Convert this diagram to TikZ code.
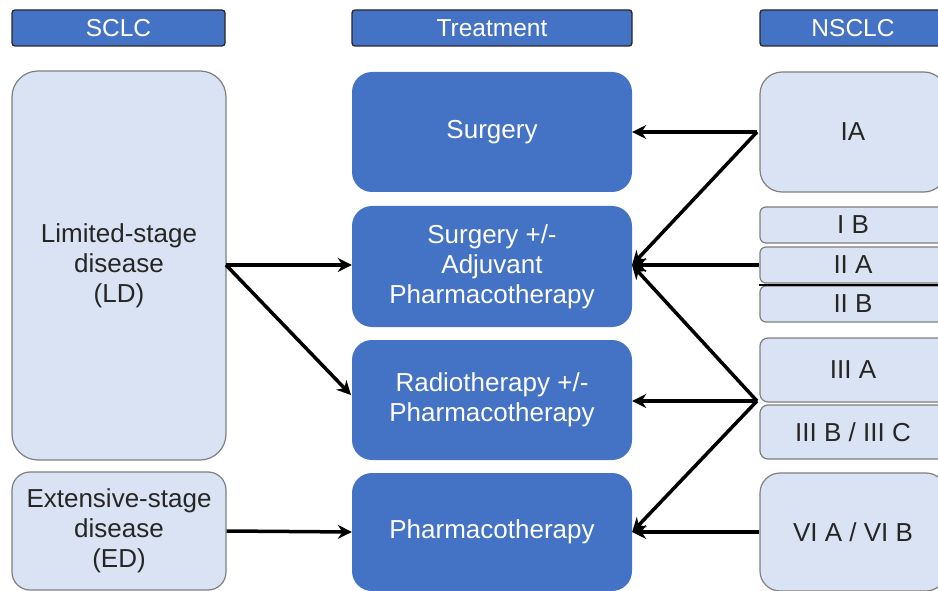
\documentclass[tikz,border=0pt]{standalone}
\usepackage{fontspec}
\setmainfont{Liberation Sans}
\usetikzlibrary{arrows.meta,calc}
\definecolor{cblue}{HTML}{4472C4}
\definecolor{clight}{HTML}{DAE3F3}
\definecolor{cedge}{HTML}{7F7F7F}
\definecolor{ctext}{HTML}{262626}
\tikzset{
  hdr/.style={fill=cblue,draw=black!85,line width=1.3pt,rounded corners=3pt,text=white,
    font=\fontsize{24.5}{28}\selectfont,inner sep=0pt},
  tbox/.style={fill=cblue,draw=none,rounded corners=20pt,text=white,align=center,
    font=\fontsize{26}{30}\selectfont,inner sep=0pt},
  lbox/.style={fill=clight,draw=cedge,line width=1.2pt,text=ctext,align=center,
    font=\fontsize{26}{30}\selectfont,inner sep=0pt},
  arr/.style={line width=3.5pt,-{Stealth[length=14pt,width=14pt]}},
}
\begin{document}
\begin{tikzpicture}[x=1pt,y=-1pt]
\useasboundingbox (0,0) rectangle (938,591);
\clip (0,0) rectangle (938,591);
\fill[white] (0,0) rectangle (938,591);
% headers
\node[hdr,minimum width=213pt,minimum height=36pt] (hs) at (118.5,28) {SCLC};
\node[hdr,minimum width=280pt,minimum height=36pt] (ht) at (492,28) {Treatment};
\node[hdr,minimum width=186pt,minimum height=36pt] (hn) at (853,28) {NSCLC};
% left
\node[lbox,rounded corners=26pt,minimum width=214pt,minimum height=389pt] (ld) at (119,265.5) {Limited-stage\\disease\\(LD)};
\node[lbox,rounded corners=18pt,minimum width=214pt,minimum height=118pt] (ed) at (119,531) {Extensive-stage\\disease\\(ED)};
% middle
\node[tbox,minimum width=280pt,minimum height=120pt] (sur) at (492,132) {Surgery};
\node[tbox,minimum width=280pt,minimum height=121pt] (sad) at (492,266.5) {Surgery +/-\\Adjuvant\\Pharmacotherapy};
\node[tbox,minimum width=280pt,minimum height=120pt] (rad) at (492,400) {Radiotherapy +/-\\Pharmacotherapy};
\node[tbox,minimum width=280pt,minimum height=118pt] (pha) at (492,532) {Pharmacotherapy};
% right
\node[lbox,rounded corners=22pt,minimum width=186pt,minimum height=120pt] (ia) at (853,132) {IA};
\node[lbox,rounded corners=6pt,minimum width=186pt,minimum height=36pt] (ib) at (853,225) {I B};
\node[lbox,rounded corners=6pt,minimum width=186pt,minimum height=36pt] (iia) at (853,265) {II A};
\node[lbox,rounded corners=6pt,minimum width=186pt,minimum height=36pt] (iib) at (853,304) {II B};
\node[lbox,rounded corners=8pt,minimum width=186pt,minimum height=64pt] (iiia) at (853,370) {III A};
\node[lbox,rounded corners=8pt,minimum width=186pt,minimum height=54pt] (iiib) at (853,432) {III B / III C};
\node[lbox,rounded corners=20pt,minimum width=186pt,minimum height=118pt] (vi) at (853,532) {VI A / VI B};
\draw[black,line width=2pt] (iib.north west) -- (iib.north east);
% junction points
\coordinate (jia) at (757,132);
\coordinate (j3) at (757,401);
\coordinate (sadr) at (632,265);
\coordinate (ldr) at (226,265);
\coordinate (radl) at (351,395);
% arrows
\draw[arr] (jia) -- (sur.east);
\draw[arr] (jia) -- (sadr);
\draw[arr] (iia.west) -- (sadr);
\draw[arr] (j3) -- (sadr);
\draw[arr] (j3) -- (rad.east |- j3);
\draw[arr] (j3) -- (pha.east);
\draw[arr] (vi.west) -- (pha.east);
\draw[arr] (ldr) -- (sad.west |- ldr);
\draw[arr] (ldr) -- (radl);
\draw[arr] (ed.east) -- (pha.west);
\end{tikzpicture}
\end{document}
